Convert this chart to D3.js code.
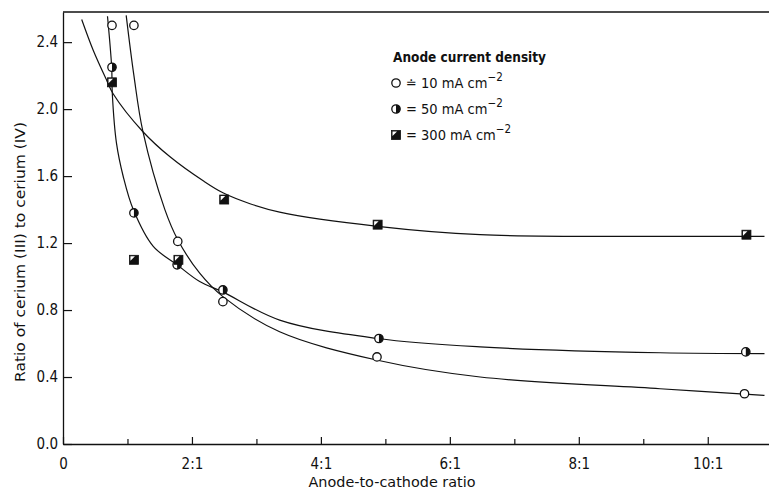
<!DOCTYPE html>
<html>
<head>
<meta charset="utf-8">
<script src="https://cdnjs.cloudflare.com/ajax/libs/d3/7.8.5/d3.min.js"></script>
<style>
  body { margin:0; background:#fff; }
  svg text { font-family:"DejaVu Sans Condensed","DejaVu Sans",sans-serif; fill:#111; }
  .tick text { font-size:15px; }
  .label { font-size:14.5px; }
</style>
</head>
<body>
<svg id="chart"></svg>
<script>
var ratio10 = [0.76, 1.10, 1.78, 2.48, 4.87, 10.57]
var ce10 = [2.50, 2.50, 1.21, 0.85, 0.52, 0.30]
var ratio50 = [0.76, 1.10, 1.77, 2.48, 4.90, 10.59]
var ce50 = [2.25, 1.38, 1.07, 0.92, 0.63, 0.55]
var ratio300 = [0.76, 1.10, 1.79, 2.50, 4.88, 10.60]
var ce300 = [2.16, 1.10, 1.10, 1.46, 1.31, 1.25]

// hand drawn fit curves
var fitX10 = [0.98, 1.10, 1.24, 1.58, 1.78, 2.12, 2.48, 3.36, 4.88, 6.47, 9.26, 10.88]
var fitY10 = [2.56, 2.20, 1.865, 1.40, 1.22, 1.02, 0.88, 0.67, 0.50, 0.40, 0.33, 0.29]
var fitX50 = [0.69, 0.755, 0.765, 0.83, 0.935, 1.09, 1.40, 1.77, 2.12, 2.47, 3.36, 4.88, 6.47, 9.26, 10.88]
var fitY50 = [2.555, 2.25, 2.09, 1.795, 1.596, 1.40, 1.18, 1.07, 0.97, 0.91, 0.74, 0.63, 0.58, 0.545, 0.54]
var fitX300 = [0.29, 0.47, 0.68, 0.78, 1.24, 1.66, 2.18, 2.48, 2.90, 3.36, 4.88, 6.47, 9.26, 10.88]
var fitY300 = [2.535, 2.35, 2.17, 2.09, 1.865, 1.715, 1.57, 1.50, 1.435, 1.385, 1.30, 1.25, 1.24, 1.24]

var xTicks = [0, 2, 4, 6, 8, 10]
var xTickLabels = ["0", "2:1", "4:1", "6:1", "8:1", "10:1"]
var xMinorTicks = [1, 3, 5, 7, 9]
var yTicks = [0, 0.4, 0.8, 1.2, 1.6, 2.0, 2.4]

var zip = function(xs, ys)
{
    return xs.map(function(x, i){ return {x:x, y:ys[i]} })
}

var series = [
    {name:"10", marker:"open", pts:zip(ratio10, ce10), fit:zip(fitX10, fitY10)},
    {name:"50", marker:"half", pts:zip(ratio50, ce50), fit:zip(fitX50, fitY50)},
    {name:"300", marker:"square", pts:zip(ratio300, ce300), fit:zip(fitX300, fitY300)}
]

var screen = {width:769, height:490}
var margins = {left:63, right:0, top:12, bottom:46}
var graph = {
    width: screen.width - margins.left - margins.right,
    height: screen.height - margins.top - margins.bottom
}

var svg = d3.select("#chart")
    .attr("width", screen.width)
    .attr("height", screen.height)

var xScale = d3.scaleLinear().domain([0, 10.95]).range([0, graph.width])
var yScale = d3.scaleLinear().domain([0, 2.58]).range([graph.height, 0])

var target = svg.append("g")
    .attr("transform", "translate(" + margins.left + "," + margins.top + ")")

// axes
var xAxis = d3.axisBottom(xScale)
    .tickValues(xTicks)
    .tickFormat(function(d, i){ return xTickLabels[i] })
    .tickSizeInner(-7).tickSizeOuter(0).tickPadding(14)
var xg = target.append("g")
    .attr("transform", "translate(0," + graph.height + ")")
    .call(xAxis)
xg.select(".domain").attr("stroke", "#111").attr("stroke-width", 1.3)
xg.selectAll(".tick line").attr("stroke", "#111").attr("stroke-width", 1.2)

var xMinor = d3.axisBottom(xScale)
    .tickValues(xMinorTicks).tickFormat("")
    .tickSizeInner(-5).tickSizeOuter(0)
var xm = target.append("g")
    .attr("transform", "translate(0," + graph.height + ")")
    .call(xMinor)
xm.select(".domain").remove()
xm.selectAll(".tick line").attr("stroke", "#111").attr("stroke-width", 1.2)

var yAxis = d3.axisLeft(yScale)
    .tickValues(yTicks)
    .tickFormat(d3.format(".1f"))
    .tickSizeInner(-9).tickSizeOuter(0).tickPadding(6)
var yg = target.append("g").call(yAxis)
yg.select(".domain").attr("stroke", "#111").attr("stroke-width", 1.3)
yg.selectAll(".tick line").attr("stroke", "#111").attr("stroke-width", 1.2)
yg.selectAll(".tick text").attr("x", -5)

// top frame line
target.append("line")
    .attr("x1", 0).attr("x2", graph.width)
    .attr("y1", 0).attr("y2", 0)
    .attr("stroke", "#111").attr("stroke-width", 1.3)

// fitted curves
var line = d3.line()
    .x(function(d){ return xScale(d.x) })
    .y(function(d){ return yScale(d.y) })
    .curve(d3.curveCatmullRom.alpha(0.5))

target.selectAll(".fit")
    .data(series)
    .enter()
    .append("path")
    .attr("class", "fit")
    .attr("d", function(s){ return line(s.fit) })
    .attr("fill", "none")
    .attr("stroke", "#111")
    .attr("stroke-width", 1.2)

// markers
var drawMarker = function(g, kind)
{
    if (kind == "open") {
        g.append("circle").attr("r", 4.2)
         .attr("fill", "#fff").attr("stroke", "#111").attr("stroke-width", 1.3)
    } else if (kind == "half") {
        g.append("circle").attr("r", 4.2)
         .attr("fill", "#fff").attr("stroke", "#111").attr("stroke-width", 1.3)
        g.append("path").attr("d", "M0,-4.2A4.2,4.2 0 0,1 0,4.2Z").attr("fill", "#111")
    } else {
        g.append("rect").attr("x", -4.5).attr("y", -4.5)
         .attr("width", 9).attr("height", 9)
         .attr("fill", "#111").attr("stroke", "#111").attr("stroke-width", 0.8)
        g.append("path").attr("d", "M-3.5,-3.5L1,-3.5L-3.5,1Z").attr("fill", "#fff")
    }
}

series.forEach(function(s)
{
    target.selectAll(".m" + s.name)
        .data(s.pts)
        .enter()
        .append("g")
        .attr("class", "m" + s.name)
        .attr("transform", function(d){
            return "translate(" + xScale(d.x) + "," + yScale(d.y) + ")"
        })
        .each(function(){ drawMarker(d3.select(this), s.marker) })
})

// legend
var legend = svg.append("g").attr("transform", "translate(393,62)")
legend.append("text")
    .attr("font-weight", "bold")
    .attr("font-size", 13.5)
    .text("Anode current density")

var legendItems = [
    {kind:"open", sym:"\u2250", val:"10"},
    {kind:"half", sym:"=", val:"50"},
    {kind:"square", sym:"=", val:"300"}
]
var entries = legend.selectAll(".entry")
    .data(legendItems)
    .enter()
    .append("g")
    .attr("class", "entry")
    .attr("transform", function(d, i){ return "translate(0," + (26 + i * 26) + ")" })

entries.each(function(d)
{
    var g = d3.select(this).append("g").attr("transform", "translate(3,-5)")
    drawMarker(g, d.kind)
})

var et = entries.append("text")
    .attr("x", 13)
    .attr("font-size", 14.5)
et.append("tspan").text(function(d){ return d.sym + " " + d.val + " mA cm" })
et.append("tspan").attr("dy", -7).attr("font-size", 11.5).text("\u22122")

// axis titles
svg.append("text")
    .attr("class", "label")
    .attr("text-anchor", "middle")
    .attr("x", 392)
    .attr("y", 487)
    .attr("textLength", 167)
    .attr("lengthAdjust", "spacingAndGlyphs")
    .text("Anode-to-cathode ratio")

svg.append("g")
    .attr("transform", "translate(25,252)")
    .append("text")
    .attr("class", "label")
    .attr("text-anchor", "middle")
    .attr("transform", "rotate(-90)")
    .attr("textLength", 260)
    .attr("lengthAdjust", "spacingAndGlyphs")
    .text("Ratio of cerium (III) to cerium (IV)")
</script>
</body>
</html>
